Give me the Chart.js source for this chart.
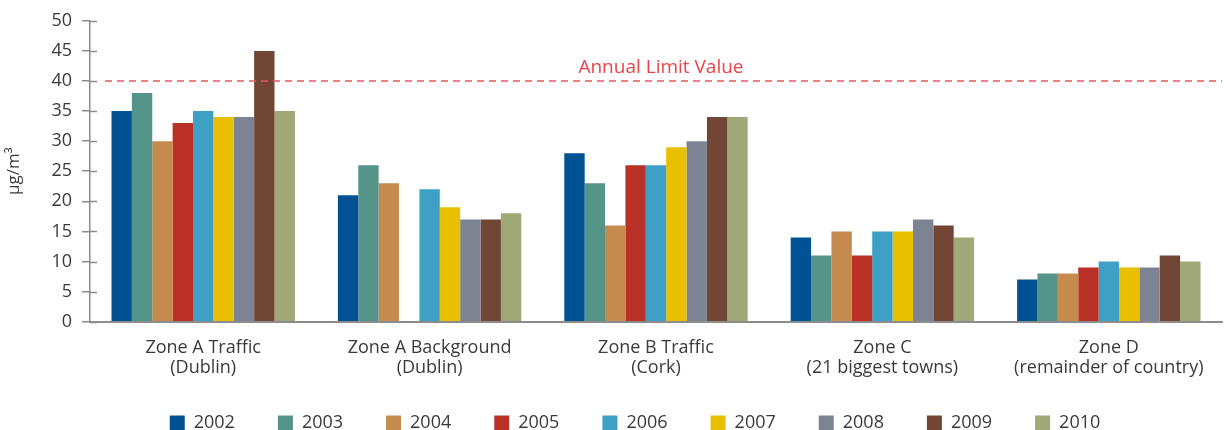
<!DOCTYPE html>
<html>
<head>
<meta charset="utf-8">
<script src="https://cdn.jsdelivr.net/npm/chart.js"></script>
<style>
  body { margin: 0; background: #fff; }
  #wrap { width: 1224px; height: 430px; }
</style>
</head>
<body>
<div id="wrap"><canvas id="no2Chart" width="1224" height="430"></canvas></div>
<script>
// categorias (zonas) e valores anuais em µg/m3
const zones = [
  ['Zone A Traffic', '(Dublin)'],
  ['Zone A Background', '(Dublin)'],
  ['Zone B Traffic', '(Cork)'],
  ['Zone C', '(21 biggest towns)'],
  ['Zone D', '(remainder of country)']
];
const years = ['2002', '2003', '2004', '2005', '2006', '2007', '2008', '2009', '2010'];
const values2002 = [35, 21, 28, 14, 7];
const values2003 = [38, 26, 23, 11, 8];
const values2004 = [30, 23, 16, 15, 8];
const values2005 = [33, null, 26, 11, 9];
const values2006 = [35, 22, 26, 15, 10];
const values2007 = [34, 19, 29, 15, 9];
const values2008 = [34, 17, 30, 17, 9];
const values2009 = [45, 17, 34, 16, 11];
const values2010 = [35, 18, 34, 14, 10];
const limitValue = 40;
const limitLabel = 'Annual Limit Value';
const yTicks = [0, 5, 10, 15, 20, 25, 30, 35, 40, 45, 50];

const colors = ['#005293', '#559488', '#c48a4e', '#b93126', '#3ea0c4', '#e8c000', '#7c8494', '#714634', '#a0a878'];
const allValues = [values2002, values2003, values2004, values2005, values2006, values2007, values2008, values2009, values2010];

const FONT = '"Open Sans", sans-serif';
const TEXT = '#3a3a3a';
const AXIS = '#8c8c8c';

// linha do valor limite + prolongamento das marcas do eixo y
const limitPlugin = {
  id: 'limitLine',
  afterUpdate(chart) {
    // ajusta a posicao da legenda como no original
    const lg = chart.legend;
    if (lg) { lg.left += 22; lg.right += 22; lg.top -= 23; lg.bottom -= 23; }
  },
  afterDatasetsDraw(chart) {
    const { ctx, chartArea, scales } = chart;
    const y = scales.y.getPixelForValue(limitValue);
    ctx.save();
    ctx.strokeStyle = '#e8555b';
    ctx.lineWidth = 1.5;
    ctx.setLineDash([7, 5]);
    ctx.beginPath();
    ctx.moveTo(chartArea.left + 15, y);
    ctx.lineTo(chartArea.right, y);
    ctx.stroke();
    ctx.setLineDash([]);
    ctx.fillStyle = '#e8454a';
    ctx.font = '19px ' + FONT;
    ctx.textAlign = 'center';
    ctx.textBaseline = 'bottom';
    ctx.fillText(limitLabel, scales.x.getPixelForValue(2) + 5, y - 4);

    // marcas do eixo y para dentro do grafico
    ctx.strokeStyle = AXIS;
    ctx.lineWidth = 1.5;
    scales.y.ticks.forEach(t => {
      const ty = Math.round(scales.y.getPixelForValue(t.value)) + 0.5;
      ctx.beginPath();
      ctx.moveTo(chartArea.left, ty);
      ctx.lineTo(chartArea.left + 7, ty);
      ctx.stroke();
    });
    ctx.restore();
  }
};

const ctx = document.getElementById('no2Chart').getContext('2d');
new Chart(ctx, {
  type: 'bar',
  data: {
    labels: zones,
    datasets: years.map((yr, i) => ({
      label: yr,
      data: allValues[i],
      backgroundColor: colors[i],
      borderWidth: 0,
      categoryPercentage: 0.81,
      barPercentage: 1.0
    }))
  },
  options: {
    responsive: false,
    animation: false,
    layout: { padding: { top: 20, right: 2, left: 4, bottom: -35 } },
    plugins: {
      tooltip: { enabled: false },
      legend: {
        position: 'bottom',
        labels: {
          boxWidth: 15,
          boxHeight: 15,
          padding: 43,
          color: TEXT,
          font: { family: FONT, size: 18 }
        }
      }
    },
    scales: {
      x: {
        grid: { display: false, drawTicks: false },
        border: { display: true, color: AXIS, width: 2 },
        ticks: {
          color: TEXT,
          font: { family: FONT, size: 18, lineHeight: 1.12 },
          padding: 16,
          maxRotation: 0,
          autoSkip: false
        }
      },
      y: {
        min: 0,
        max: 50,
        afterBuildTicks(axis) { axis.ticks = yTicks.map(v => ({ value: v })); },
        grid: { drawOnChartArea: false, drawTicks: true, tickLength: 8, color: AXIS, lineWidth: 1.5 },
        border: { display: true, color: AXIS, width: 1.5 },
        ticks: {
          color: TEXT,
          font: { family: FONT, size: 18 },
          padding: 10
        },
        title: {
          display: true,
          text: 'μg/m³',
          color: TEXT,
          font: { family: FONT, size: 17 },
          padding: { top: 0, bottom: 17 }
        }
      }
    }
  },
  plugins: [limitPlugin]
});
</script>
</body>
</html>
